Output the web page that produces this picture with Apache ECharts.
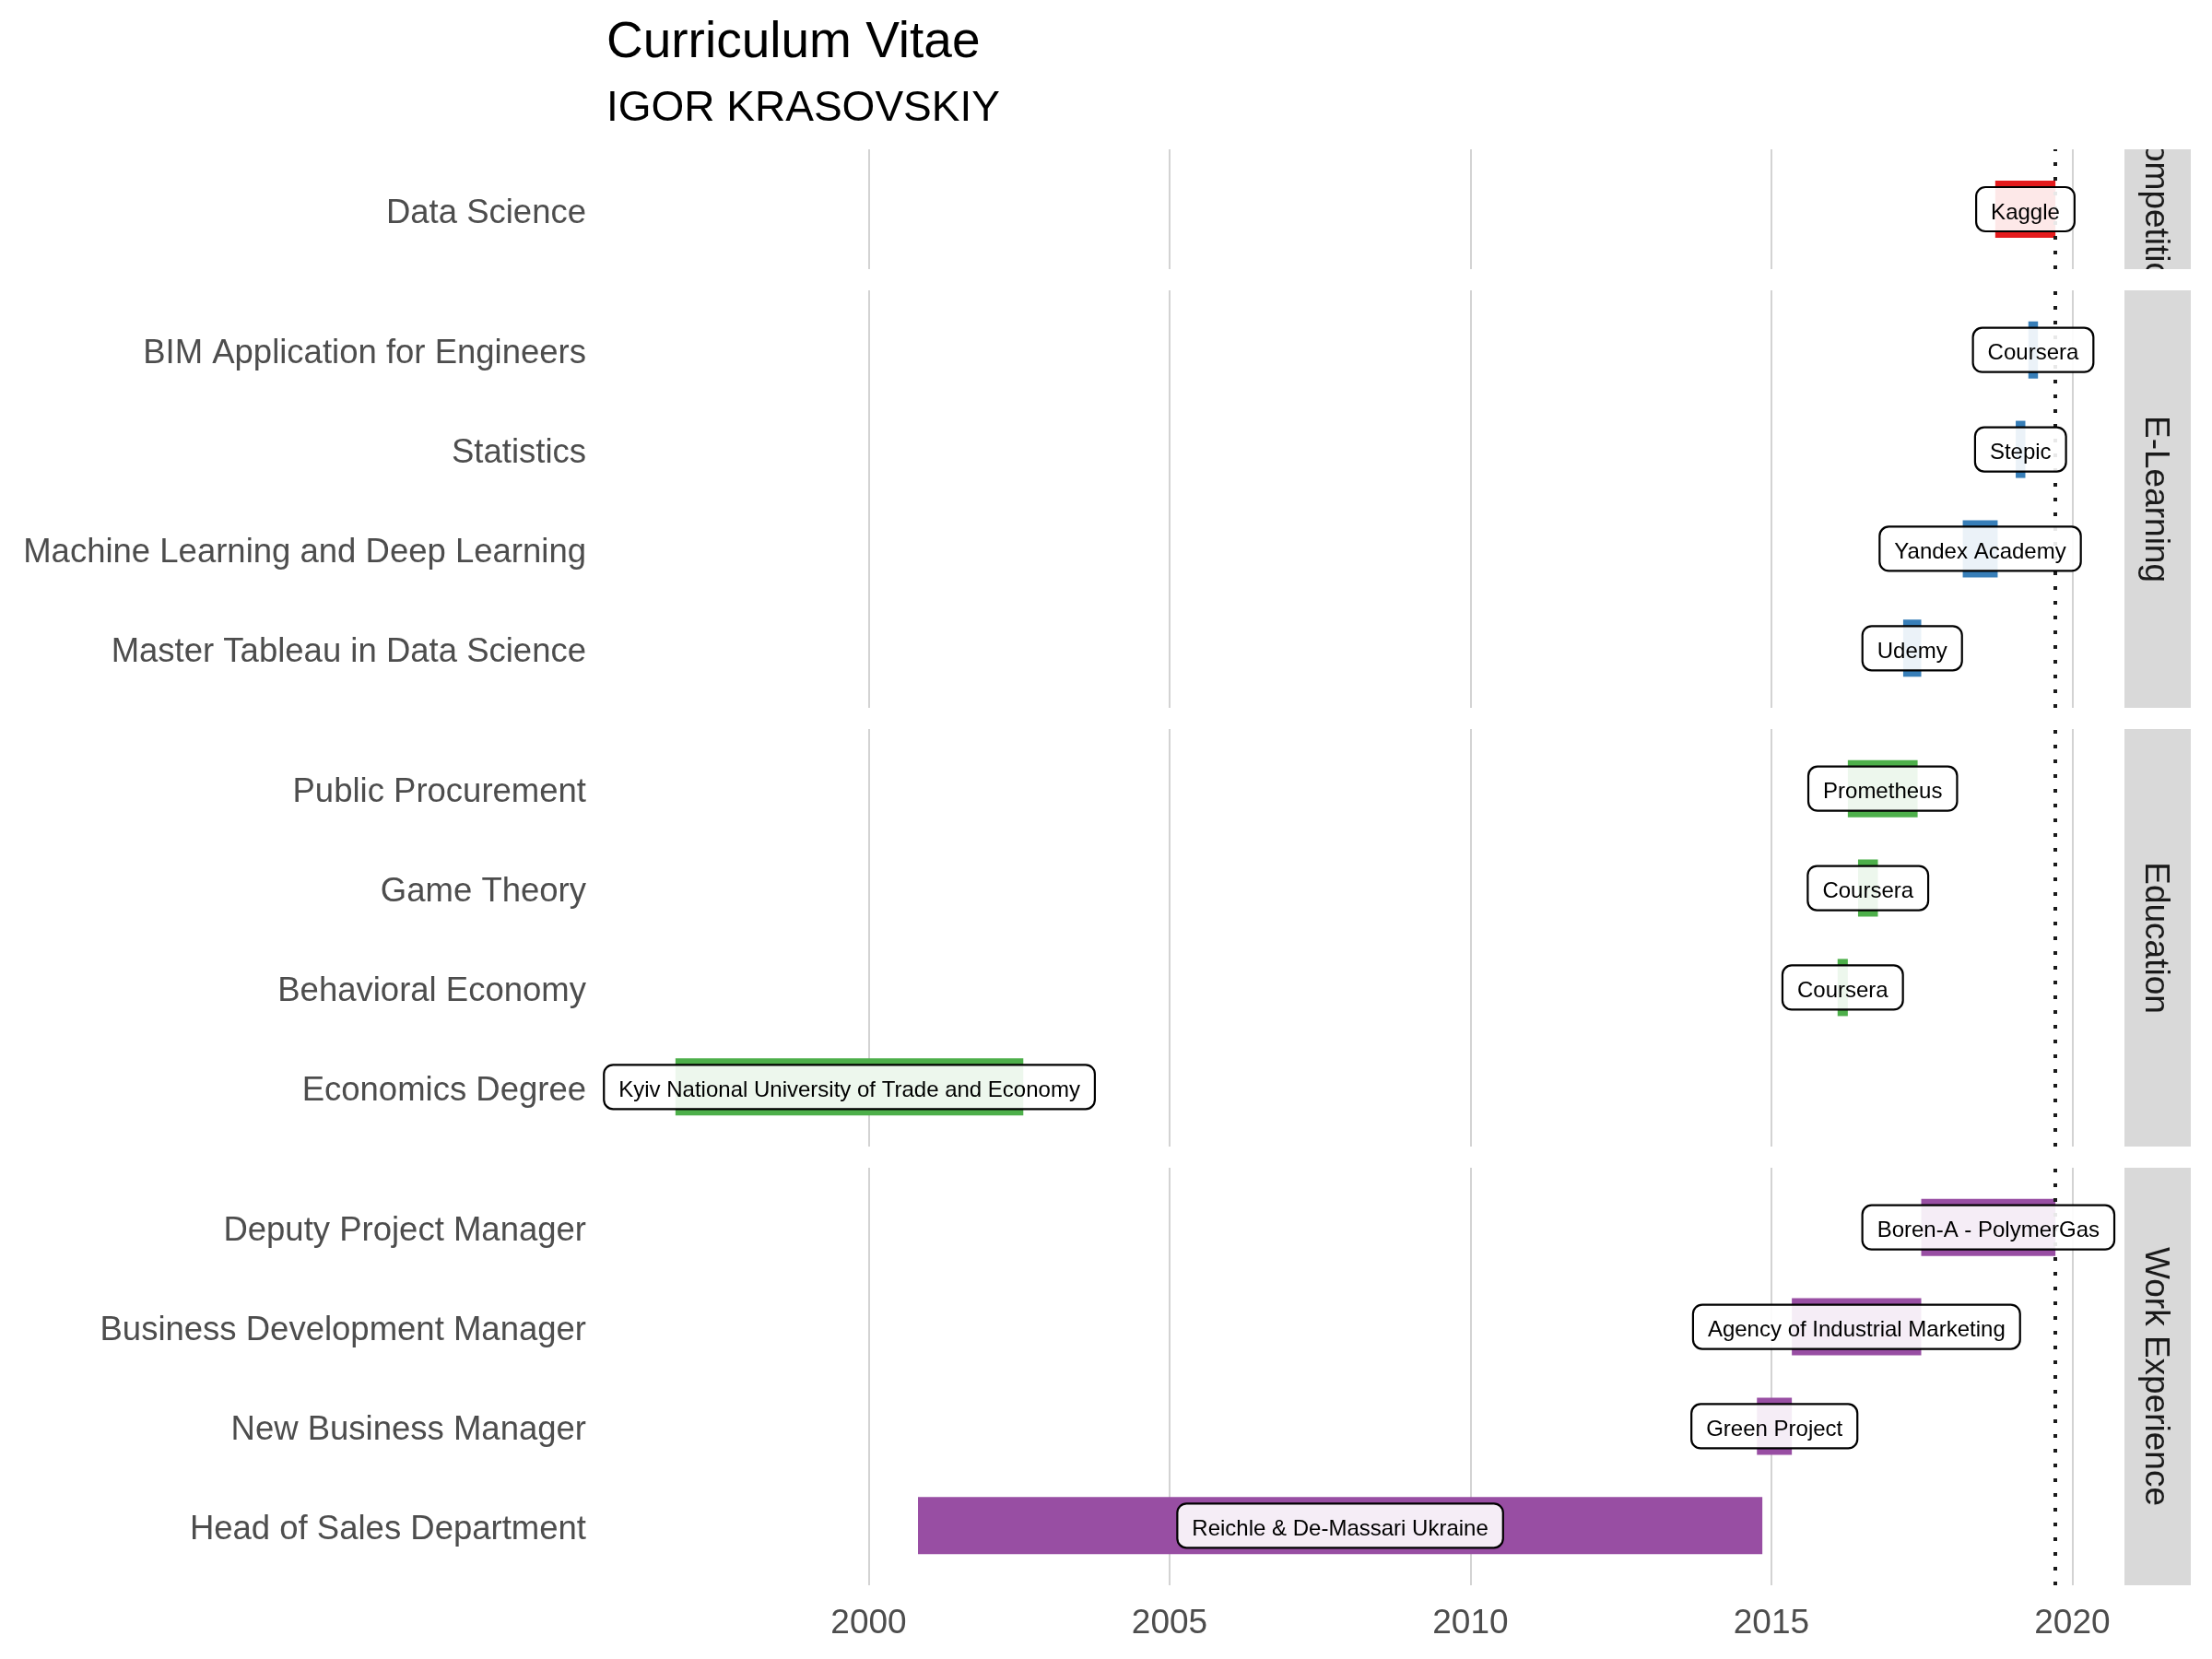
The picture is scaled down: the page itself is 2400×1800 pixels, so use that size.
<!DOCTYPE html>
<html><head><meta charset="utf-8">
<script src="https://cdn.jsdelivr.net/npm/echarts@6/dist/echarts.min.js"></script>
<style>html,body{margin:0;padding:0;background:#fff}#c{width:2400px;height:1800px}</style>
</head><body><div id="c"></div>
<script>
// ---------------- DATA ----------------
const todayYear = 2019.72;
const xTickValues = [2000, 2005, 2010, 2015, 2020];
const facetNames = ['Competition', 'E-Learning', 'Education', 'Work Experience'];

const competitionItems = ['Data Science'];
const competitionStart = [2018.72];
const competitionEnd   = [2019.72];
const competitionOrg   = ['Kaggle'];

const elearningItems = ['Master Tableau in Data Science', 'Machine Learning and Deep Learning', 'Statistics', 'BIM Application for Engineers'];
const elearningStart = [2017.19, 2018.18, 2019.06, 2019.27];
const elearningEnd   = [2017.49, 2018.76, 2019.22, 2019.43];
const elearningOrg   = ['Udemy', 'Yandex Academy', 'Stepic', 'Coursera'];

const educationItems = ['Economics Degree', 'Behavioral Economy', 'Game Theory', 'Public Procurement'];
const educationStart = [1996.79, 2016.10, 2016.44, 2016.27];
const educationEnd   = [2002.57, 2016.27, 2016.77, 2017.43];
const educationOrg   = ['Kyiv National University of Trade and Economy', 'Coursera', 'Coursera', 'Prometheus'];

const workItems = ['Head of Sales Department', 'New Business Manager', 'Business Development Manager', 'Deputy Project Manager'];
const workStart = [2000.82, 2014.76, 2015.34, 2017.49];
const workEnd   = [2014.85, 2015.34, 2017.49, 2019.72];
const workOrg   = ['Reichle & De-Massari Ukraine', 'Green Project', 'Agency of Industrial Marketing', 'Boren-A - PolymerGas'];

// ---------------- STYLE / LAYOUT ----------------
const FONT = '"Liberation Sans", Arial, Helvetica, sans-serif';
const facetColors = ['#E41A1C', '#377EB8', '#4DAF4A', '#984EA3'];
const panels = [
  { top: 162, height: 130 },
  { top: 315, height: 453 },
  { top: 791, height: 453 },
  { top: 1267, height: 453 }
];
const PANEL_LEFT = 658, PANEL_RIGHT = 2305, STRIP_W = 72;
const BAR_H = 62;
const LABEL_FS = 24, BOX_PADX = 16, BOX_H = 48;

const measureCtx = document.createElement('canvas').getContext('2d');
measureCtx.font = LABEL_FS + 'px ' + FONT;
const textW = s => measureCtx.measureText(s).width;

const facets = [
  { items: competitionItems, start: competitionStart, end: competitionEnd, org: competitionOrg },
  { items: elearningItems, start: elearningStart, end: elearningEnd, org: elearningOrg },
  { items: educationItems, start: educationStart, end: educationEnd, org: educationOrg },
  { items: workItems, start: workStart, end: workEnd, org: workOrg }
];

let allVals = [todayYear];
facets.forEach(f => { allVals = allVals.concat(f.start, f.end); });
const dmin = Math.min(...allVals), dmax = Math.max(...allVals);
const pad = (dmax - dmin) * 0.05;
const xMin = dmin - pad, xMax = dmax + pad;

const grids = [], xAxes = [], yAxes = [], series = [], graphics = [];

facets.forEach((f, i) => {
  const p = panels[i];
  grids.push({ left: PANEL_LEFT, right: 2400 - PANEL_RIGHT, top: p.top, height: p.height, containLabel: false });
  xAxes.push({
    type: 'value', gridIndex: i, min: xMin, max: xMax,
    axisLine: { show: false },
    axisTick: { show: false, customValues: xTickValues },
    axisLabel: {
      show: i === facets.length - 1, customValues: xTickValues,
      color: '#4D4D4D', fontSize: 37, fontFamily: FONT, margin: 23,
      formatter: v => String(Math.round(v))
    },
    splitLine: { show: true, lineStyle: { color: '#D3D3D3', width: 2 } }
  });
  const n = f.items.length;
  const idx = f.items.map((_, k) => k);
  yAxes.push({
    type: 'value', gridIndex: i, min: -0.6, max: n - 1 + 0.6,
    axisLine: { show: false }, axisTick: { show: false, customValues: idx },
    splitLine: { show: false },
    axisLabel: {
      customValues: idx, color: '#4D4D4D', fontSize: 36.5, fontFamily: FONT, margin: 22,
      verticalAlign: 'top', lineHeight: 9,
      formatter: v => f.items[Math.round(v)]
    }
  });
  const data = f.items.map((name, k) => [f.start[k], k, f.end[k], f.org[k]]);
  const color = facetColors[i];
  series.push({
    type: 'custom', name: facetNames[i] + ' bars', xAxisIndex: i, yAxisIndex: i, z: 2,
    encode: { x: [0, 2], y: 1 },
    data: data,
    renderItem: (params, api) => {
      const a = api.coord([api.value(0), api.value(1)]);
      const b = api.coord([api.value(2), api.value(1)]);
      return { type: 'rect', shape: { x: a[0], y: a[1] - BAR_H / 2, width: b[0] - a[0], height: BAR_H }, style: { fill: color } };
    },
    markLine: {
      silent: true, symbol: ['none', 'none'], z: 5, animation: false,
      label: { show: false },
      lineStyle: { color: '#1a1a1a', width: 4, type: [4, 12] },
      data: [{ xAxis: todayYear }]
    }
  });
  series.push({
    type: 'custom', name: facetNames[i] + ' labels', xAxisIndex: i, yAxisIndex: i, z: 10, clip: false,
    encode: { x: [0, 2], y: 1 },
    data: data,
    renderItem: (params, api) => {
      const mid = (api.value(0) + api.value(2)) / 2;
      const c = api.coord([mid, api.value(1)]);
      const txt = data[params.dataIndex][3];
      const w = textW(txt) + BOX_PADX * 2;
      return {
        type: 'group',
        children: [
          { type: 'rect', shape: { x: c[0] - w / 2, y: c[1] - BOX_H / 2, width: w, height: BOX_H, r: 10 },
            style: { fill: 'rgba(255,255,255,0.9)', stroke: '#000', lineWidth: 2.2 } },
          { type: 'text', style: { text: txt, x: c[0], y: c[1] + 4, align: 'center', verticalAlign: 'middle',
            fill: '#000', fontSize: LABEL_FS, fontFamily: FONT } }
        ]
      };
    }
  });
  // strip
  graphics.push({
    type: 'rect', z: i === 0 ? 0 : 2,
    shape: { x: PANEL_RIGHT, y: p.top, width: STRIP_W, height: p.height },
    style: { fill: '#D9D9D9' }
  });
  graphics.push({
    type: 'text', z: i === 0 ? 1 : 3,
    x: PANEL_RIGHT + STRIP_W / 2 - 3, y: p.top + p.height / 2, rotation: -Math.PI / 2,
    style: { text: facetNames[i], align: 'center', verticalAlign: 'middle', fill: '#1A1A1A', fontSize: 37, fontFamily: FONT }
  });
});
// covers to clip the overflowing Competition strip text
graphics.push({ type: 'rect', z: 2, shape: { x: PANEL_RIGHT, y: panels[0].top - 60, width: STRIP_W, height: 60 }, style: { fill: '#fff' } });
graphics.push({ type: 'rect', z: 2, shape: { x: PANEL_RIGHT, y: panels[0].top + panels[0].height, width: STRIP_W, height: panels[1].top - panels[0].top - panels[0].height }, style: { fill: '#fff' } });

const chart = echarts.init(document.getElementById('c'), null, { renderer: 'canvas' });
chart.setOption({
  animation: false,
  backgroundColor: '#fff',
  title: [
    { text: 'Curriculum Vitae', left: PANEL_LEFT, top: 19, padding: 0,
      textStyle: { fontSize: 55, fontWeight: 'normal', color: '#000', fontFamily: FONT } },
    { text: 'IGOR KRASOVSKIY', left: PANEL_LEFT, top: 95, padding: 0,
      textStyle: { fontSize: 46, fontWeight: 'normal', color: '#000', fontFamily: FONT } }
  ],
  grid: grids, xAxis: xAxes, yAxis: yAxes, series: series, graphic: graphics
});
</script></body></html>
